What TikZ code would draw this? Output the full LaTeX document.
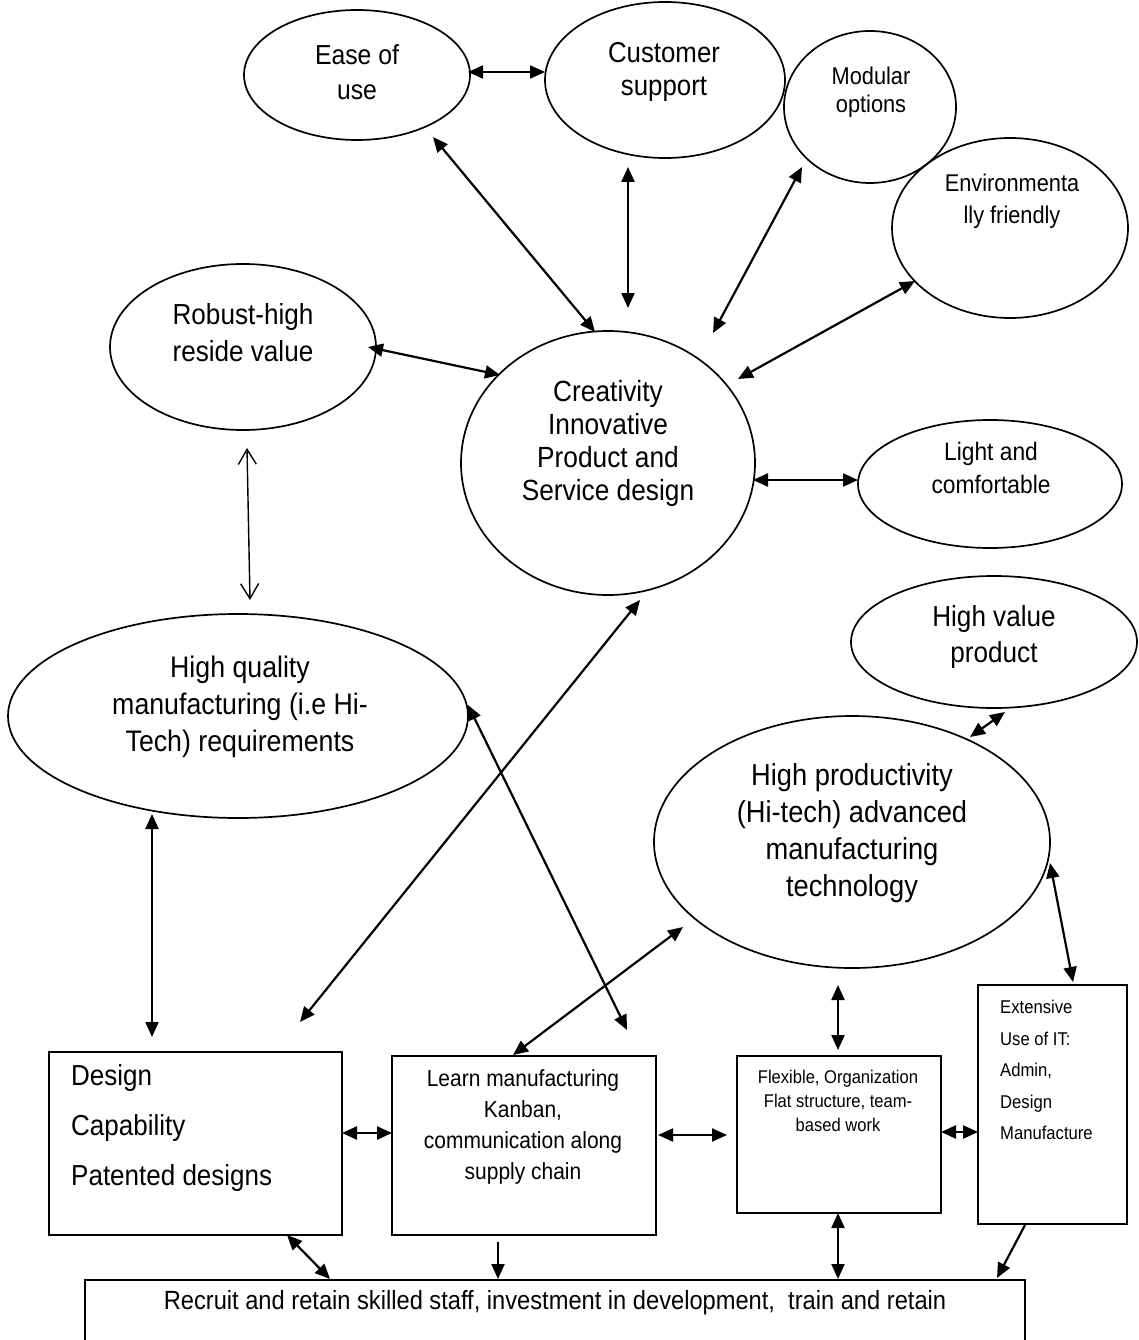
\documentclass[tikz,border=0pt]{standalone}
\usepackage{fontspec}
\setmainfont{Liberation Sans}[FakeStretch=0.9]
\usetikzlibrary{arrows.meta,shapes.geometric}
\newcommand\fsz[2]{\fontsize{#1}{#2}\selectfont}
\begin{document}
\begin{tikzpicture}[x=1pt,y=-1pt,
  oval/.style={draw, ellipse, line width=1.7pt, inner sep=0pt},
  box/.style={draw, rectangle, line width=2pt, inner sep=0pt},
  txt/.style={inner sep=0pt, align=center},
  ltxt/.style={inner sep=0pt, align=left, anchor=west},
  tip/.tip={Triangle[length=15pt,width=13pt]},
  dbl/.style={line width=2.2pt, tip-tip},
  one/.style={line width=2.2pt, -tip},
  open/.style={line width=1.4pt, {Straight Barb[length=15pt,width=18pt]}-{Straight Barb[length=15pt,width=18pt]}}
]
\useasboundingbox (0,0) rectangle (1138,1340);
\clip (0,0) rectangle (1138,1340);
\fill[white] (0,0) rectangle (1138,1340);

% ---- outcome ovals ----
\node[oval, minimum width=226pt, minimum height=130pt] (ease) at (357,75) {};
\node[txt, font=\fsz{27.5}{35}] (ease-t) at (357,72) {Ease of\\use};

\node[oval, minimum width=240pt, minimum height=156pt] (cust) at (665,80) {};
\node[txt, font=\fsz{28.7}{33}] (cust-t) at (664,72) {Customer\\support};

\node[oval, minimum width=172pt, minimum height=152pt] (mod) at (870,107) {};
\node[txt, font=\fsz{24.2}{28}] (mod-t) at (871,92) {Modular\\options};

\node[oval, minimum width=236pt, minimum height=180pt] (env) at (1010,228) {};
\node[txt, font=\fsz{24.2}{32}] (env-t) at (1012,201) {Environmenta\\lly friendly};

\node[oval, minimum width=266pt, minimum height=166pt] (rob) at (243,347) {};
\node[txt, font=\fsz{29}{37}] (rob-t) at (243,333) {Robust-high\\reside value};

\node[oval, minimum width=294pt, minimum height=264pt] (creat) at (608,463) {};
\node[txt, font=\fsz{29.2}{33}] (creat-t) at (608,443) {Creativity\\Innovative\\Product and\\Service design};

\node[oval, minimum width=264pt, minimum height=128pt] (light) at (990,484) {};
\node[txt, font=\fsz{25.3}{33}] (light-t) at (991,468) {Light and\\comfortable};

\node[oval, minimum width=286pt, minimum height=132pt] (hval) at (994,642) {};
\node[txt, font=\fsz{29}{36}] (hval-t) at (994,637) {High value\\product};

\node[oval, minimum width=460pt, minimum height=204pt] (hq) at (238,716) {};
\node[txt, font=\fsz{29.7}{37}] (hq-t) at (240,707) {High quality\\manufacturing (i.e Hi-\\Tech) requirements};

\node[oval, minimum width=396pt, minimum height=252pt] (hprod) at (852,842) {};
\node[txt, font=\fsz{30.3}{37}] (hprod-t) at (852,833) {High productivity\\(Hi-tech) advanced\\manufacturing\\technology};

% ---- capability boxes ----
\node[box, minimum width=293pt, minimum height=183pt] (design) at (195.5,1143.5) {};
\node[ltxt, font=\fsz{28.9}{50}] (design-t) at (71,1128) {Design\\Capability\\Patented designs};

\node[box, minimum width=264pt, minimum height=179pt] (learn) at (524,1145.5) {};
\node[txt, font=\fsz{23.3}{31}] (learn-t) at (523,1127) {Learn manufacturing\\Kanban,\\communication along\\supply chain};

\node[box, minimum width=204pt, minimum height=157pt] (flex) at (839,1134.5) {};
\node[txt, font=\fsz{18.4}{24}] (flex-t) at (838,1101) {Flexible, Organization\\Flat structure, team-\\based work};

\node[box, minimum width=149pt, minimum height=239pt] (ext) at (1052.5,1104.5) {};
\node[ltxt, font=\fsz{18.5}{31.5}] (ext-t) at (1000,1070) {Extensive\\Use of IT:\\Admin,\\Design\\Manufacture};

\node[box, minimum width=940pt, minimum height=80pt] (recruit) at (555,1320) {};
\node[txt, font=\fsz{26.3}{30}] (recruit-t) at (555,1303) {Recruit and retain skilled staff, investment in development,\ \ train and retain};

% ---- connectors ----
\draw[dbl] ([shift={(111,-3)}]ease.center) -- ([shift={(-120,-8)}]cust.center);
\draw[dbl] ([shift={(76,62)}]ease.center) -- ([shift={(-13,-131)}]creat.center);
\draw[dbl] ([shift={(-37,87)}]cust.center) -- ([shift={(20,-155)}]creat.center);
\draw[dbl] ([shift={(-68,60)}]mod.center) -- ([shift={(105,-130)}]creat.center);
\draw[dbl] ([shift={(-95,53)}]env.center) -- ([shift={(130,-84)}]creat.center);
\draw[dbl] ([shift={(125,0)}]rob.center) -- ([shift={(-108,-88)}]creat.center);
\draw[dbl] ([shift={(145,17)}]creat.center) -- ([shift={(-132,-4)}]light.center);
\draw[open] ([shift={(4,101)}]rob.center) -- ([shift={(12,-116)}]hq.center);
\draw[dbl] ([shift={(-86,98)}]hq.center) -- ([shift={(-43.5,-106.5)}]design.center);
\draw[dbl] ([shift={(32,137)}]creat.center) -- ([shift={(104.5,-121.5)}]design.center);
\draw[dbl] ([shift={(230,-11)}]hq.center) -- ([shift={(103,-115.5)}]learn.center);
\draw[dbl] ([shift={(-169,85)}]hprod.center) -- ([shift={(-11,-90.5)}]learn.center);
\draw[dbl] ([shift={(11,70)}]hval.center) -- ([shift={(118,-105)}]hprod.center);
\draw[dbl] ([shift={(-14,143)}]hprod.center) -- ([shift={(-1,-84.5)}]flex.center);
\draw[dbl] ([shift={(198,21)}]hprod.center) -- ([shift={(20.5,-122.5)}]ext.center);
\draw[dbl] ([shift={(146.5,-10.5)}]design.center) -- ([shift={(-132,-12.5)}]learn.center);
\draw[dbl] ([shift={(134,-10.5)}]learn.center) -- ([shift={(-112,0.5)}]flex.center);
\draw[dbl] ([shift={(102,-2.5)}]flex.center) -- ([shift={(-74.5,27.5)}]ext.center);
\draw[dbl] ([shift={(91.5,91.5)}]design.center) -- ([shift={(-225,-41)}]recruit.center);
\draw[one] ([shift={(-26,96.5)}]learn.center) -- ([shift={(-57,-41)}]recruit.center);
\draw[dbl] ([shift={(-1,78.5)}]flex.center) -- ([shift={(283,-41)}]recruit.center);
\draw[one] ([shift={(-27.5,120.5)}]ext.center) -- ([shift={(442,-42)}]recruit.center);
\end{tikzpicture}
\end{document}
